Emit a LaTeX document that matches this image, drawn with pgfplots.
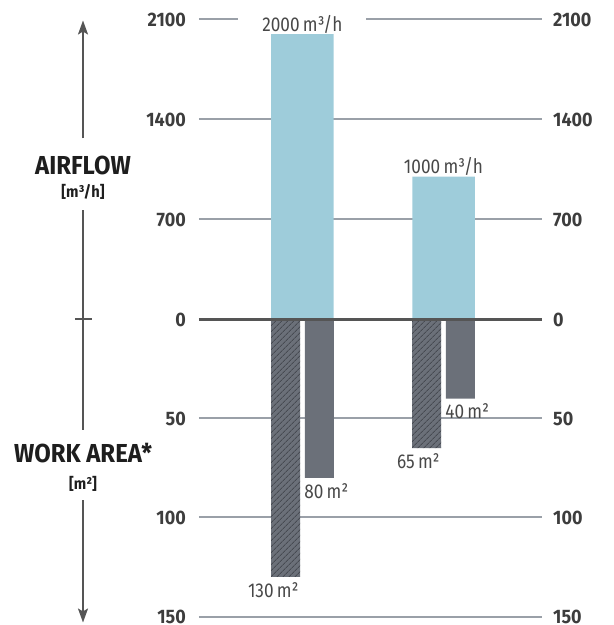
\documentclass[border=0pt]{standalone}
\usepackage{pgfplots}
\pgfplotsset{compat=1.18}
\usepackage{pgfplotstable}
\usepackage{fontspec}
\setmainfont{Fira Sans}
\newfontfamily\cond[FakeStretch=0.86]{Fira Sans}
\newfontfamily\condh[FakeStretch=0.92]{Fira Sans}
\usetikzlibrary{patterns.meta,arrows.meta}
\definecolor{airblue}{HTML}{9ECCDA}
\definecolor{bargray}{HTML}{6B7079}
\definecolor{hatchgray}{HTML}{474B52}
\definecolor{gridgray}{HTML}{9AA0A8}
\definecolor{zerogray}{HTML}{555555}
\definecolor{ticktext}{HTML}{3D3D3D}
\definecolor{valtext}{HTML}{484848}
\definecolor{headtext}{HTML}{1E1E1E}

\pgfplotstableread{
x airflow area1 area2
1 2000 130 80
2 1000 65 40
}\data

\newcommand\lbelowR[1]{\makebox[0pt][r]{\raisebox{-\height}[0pt][0pt]{#1}}}
\newcommand\lbelowL[1]{\makebox[0pt][l]{\raisebox{-\height}[0pt][0pt]{#1}}}

\pgfplotsset{base/.style={
  scale only axis, width=343pt, height=597pt,
  xmin=0.2672, xmax=2.698, ymin=-297, ymax=300,
  axis line style={draw=none}, major tick length=0pt,
  xtick=\empty,
  ytick={-297,-198,-99,0,100,200,300},
  yticklabels={150,100,50,0,700,1400,2100},
  yticklabel style={font=\condh\bfseries\fontsize{19.5}{19.5}\selectfont, text=ticktext, inner sep=0pt},
  clip=false}}

\begin{document}
\begin{tikzpicture}
\path[use as bounding box] (-199pt,-8.5pt) rectangle (415pt,616.5pt);
\begin{axis}[base, ymajorgrids, grid style={gridgray, line width=2pt},
  yticklabel pos=left, yticklabel shift=13pt]
\addplot[ybar, bar width=62.5pt, bar shift=0pt, fill=airblue, draw=none,
  point meta=explicit symbolic,
  nodes near coords={\pgfplotspointmeta\,m³/h},
  every node near coord/.append style={fill=white, inner xsep=24pt, inner ysep=0.5pt,
    font=\cond\fontsize{20}{20}\selectfont, text=valtext}]
  table[x=x, y expr=\thisrow{airflow}/7, meta=airflow]{\data};
\addplot[ybar, bar width=29pt, bar shift=-16.9pt, fill=bargray, draw=none,
  postaction={pattern={Lines[angle=45,distance=4pt,line width=1pt]}, pattern color=hatchgray},
  point meta=explicit symbolic,
  nodes near coords={\lbelowR{\pgfplotspointmeta\,m²}},
  every node near coord/.append style={xshift=-3.9pt, yshift=-6pt, inner sep=0pt,
    font=\cond\fontsize{20}{20}\selectfont, text=valtext}]
  table[x=x, y expr=-1.98*\thisrow{area1}, meta=area1]{\data};
\addplot[ybar, bar width=29pt, bar shift=16.9pt, fill=bargray, draw=none,
  point meta=explicit symbolic,
  nodes near coords={\lbelowL{\pgfplotspointmeta\,m²}},
  every node near coord/.append style={xshift=1.9pt, yshift=-6pt, inner sep=0pt,
    font=\cond\fontsize{20}{20}\selectfont, text=valtext}]
  table[x=x, y expr=-1.98*\thisrow{area2}, meta=area2]{\data};
\draw[zerogray, line width=2.4pt] (axis cs:0.2672,0) -- (axis cs:2.698,0);
\end{axis}
\begin{axis}[base, yticklabel pos=right, yticklabel shift=11pt]
\end{axis}
% left annotation
\draw[zerogray, line width=2pt, -{Stealth[length=14pt,width=10pt,inset=3pt]}] (-116pt,478pt) -- (-116pt,596pt);
\draw[zerogray, line width=2pt] (-116pt,406pt) -- (-116pt,186pt);
\draw[zerogray, line width=2pt] (-124pt,297pt) -- (-107pt,297pt);
\draw[zerogray, line width=2pt, -{Stealth[length=14pt,width=10pt,inset=3pt]}] (-116pt,116pt) -- (-116pt,-6pt);
\node[font=\condh\bfseries\fontsize{26}{26}\selectfont, text=headtext] at (-116pt,451pt) {AIRFLOW};
\node[font=\condh\bfseries\fontsize{16}{16}\selectfont, text=headtext] at (-116pt,425pt) {[m³/h]};
\node[font=\condh\bfseries\fontsize{26}{26}\selectfont, text=headtext] at (-116pt,163pt) {WORK AREA*};
\node[font=\condh\bfseries\fontsize{16}{16}\selectfont, text=headtext] at (-116pt,133pt) {[m²]};
\end{tikzpicture}
\end{document}
